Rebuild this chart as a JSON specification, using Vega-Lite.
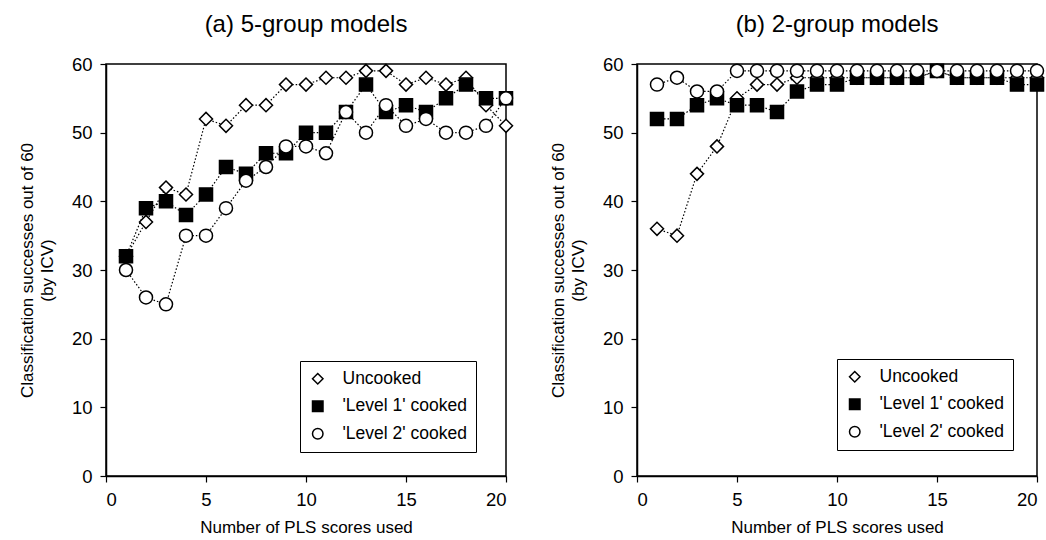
{
  "$schema": "https://vega.github.io/schema/vega-lite/v6.json",
  "background": "white",
  "padding": {"left": 17, "top": 12, "right": 5, "bottom": 2},
  "bounds": "flush",
  "spacing": 131,
  "datasets": {
    "a": [
      {"series": "Uncooked", "x": 1, "y": 32}, {"series": "Uncooked", "x": 2, "y": 37}, {"series": "Uncooked", "x": 3, "y": 42}, {"series": "Uncooked", "x": 4, "y": 41}, {"series": "Uncooked", "x": 5, "y": 52}, {"series": "Uncooked", "x": 6, "y": 51}, {"series": "Uncooked", "x": 7, "y": 54}, {"series": "Uncooked", "x": 8, "y": 54}, {"series": "Uncooked", "x": 9, "y": 57}, {"series": "Uncooked", "x": 10, "y": 57}, {"series": "Uncooked", "x": 11, "y": 58}, {"series": "Uncooked", "x": 12, "y": 58}, {"series": "Uncooked", "x": 13, "y": 59}, {"series": "Uncooked", "x": 14, "y": 59}, {"series": "Uncooked", "x": 15, "y": 57}, {"series": "Uncooked", "x": 16, "y": 58}, {"series": "Uncooked", "x": 17, "y": 57}, {"series": "Uncooked", "x": 18, "y": 58}, {"series": "Uncooked", "x": 19, "y": 54}, {"series": "Uncooked", "x": 20, "y": 51},
      {"series": "'Level 1' cooked", "x": 1, "y": 32}, {"series": "'Level 1' cooked", "x": 2, "y": 39}, {"series": "'Level 1' cooked", "x": 3, "y": 40}, {"series": "'Level 1' cooked", "x": 4, "y": 38}, {"series": "'Level 1' cooked", "x": 5, "y": 41}, {"series": "'Level 1' cooked", "x": 6, "y": 45}, {"series": "'Level 1' cooked", "x": 7, "y": 44}, {"series": "'Level 1' cooked", "x": 8, "y": 47}, {"series": "'Level 1' cooked", "x": 9, "y": 47}, {"series": "'Level 1' cooked", "x": 10, "y": 50}, {"series": "'Level 1' cooked", "x": 11, "y": 50}, {"series": "'Level 1' cooked", "x": 12, "y": 53}, {"series": "'Level 1' cooked", "x": 13, "y": 57}, {"series": "'Level 1' cooked", "x": 14, "y": 53}, {"series": "'Level 1' cooked", "x": 15, "y": 54}, {"series": "'Level 1' cooked", "x": 16, "y": 53}, {"series": "'Level 1' cooked", "x": 17, "y": 55}, {"series": "'Level 1' cooked", "x": 18, "y": 57}, {"series": "'Level 1' cooked", "x": 19, "y": 55}, {"series": "'Level 1' cooked", "x": 20, "y": 55},
      {"series": "'Level 2' cooked", "x": 1, "y": 30}, {"series": "'Level 2' cooked", "x": 2, "y": 26}, {"series": "'Level 2' cooked", "x": 3, "y": 25}, {"series": "'Level 2' cooked", "x": 4, "y": 35}, {"series": "'Level 2' cooked", "x": 5, "y": 35}, {"series": "'Level 2' cooked", "x": 6, "y": 39}, {"series": "'Level 2' cooked", "x": 7, "y": 43}, {"series": "'Level 2' cooked", "x": 8, "y": 45}, {"series": "'Level 2' cooked", "x": 9, "y": 48}, {"series": "'Level 2' cooked", "x": 10, "y": 48}, {"series": "'Level 2' cooked", "x": 11, "y": 47}, {"series": "'Level 2' cooked", "x": 12, "y": 53}, {"series": "'Level 2' cooked", "x": 13, "y": 50}, {"series": "'Level 2' cooked", "x": 14, "y": 54}, {"series": "'Level 2' cooked", "x": 15, "y": 51}, {"series": "'Level 2' cooked", "x": 16, "y": 52}, {"series": "'Level 2' cooked", "x": 17, "y": 50}, {"series": "'Level 2' cooked", "x": 18, "y": 50}, {"series": "'Level 2' cooked", "x": 19, "y": 51}, {"series": "'Level 2' cooked", "x": 20, "y": 55}
    ],
    "b": [
      {"series": "Uncooked", "x": 1, "y": 36}, {"series": "Uncooked", "x": 2, "y": 35}, {"series": "Uncooked", "x": 3, "y": 44}, {"series": "Uncooked", "x": 4, "y": 48}, {"series": "Uncooked", "x": 5, "y": 55}, {"series": "Uncooked", "x": 6, "y": 57}, {"series": "Uncooked", "x": 7, "y": 57}, {"series": "Uncooked", "x": 8, "y": 58}, {"series": "Uncooked", "x": 9, "y": 58}, {"series": "Uncooked", "x": 10, "y": 58}, {"series": "Uncooked", "x": 11, "y": 58}, {"series": "Uncooked", "x": 12, "y": 58}, {"series": "Uncooked", "x": 13, "y": 58}, {"series": "Uncooked", "x": 14, "y": 58}, {"series": "Uncooked", "x": 15, "y": 59}, {"series": "Uncooked", "x": 16, "y": 58}, {"series": "Uncooked", "x": 17, "y": 58}, {"series": "Uncooked", "x": 18, "y": 58}, {"series": "Uncooked", "x": 19, "y": 58}, {"series": "Uncooked", "x": 20, "y": 58},
      {"series": "'Level 1' cooked", "x": 1, "y": 52}, {"series": "'Level 1' cooked", "x": 2, "y": 52}, {"series": "'Level 1' cooked", "x": 3, "y": 54}, {"series": "'Level 1' cooked", "x": 4, "y": 55}, {"series": "'Level 1' cooked", "x": 5, "y": 54}, {"series": "'Level 1' cooked", "x": 6, "y": 54}, {"series": "'Level 1' cooked", "x": 7, "y": 53}, {"series": "'Level 1' cooked", "x": 8, "y": 56}, {"series": "'Level 1' cooked", "x": 9, "y": 57}, {"series": "'Level 1' cooked", "x": 10, "y": 57}, {"series": "'Level 1' cooked", "x": 11, "y": 58}, {"series": "'Level 1' cooked", "x": 12, "y": 58}, {"series": "'Level 1' cooked", "x": 13, "y": 58}, {"series": "'Level 1' cooked", "x": 14, "y": 58}, {"series": "'Level 1' cooked", "x": 15, "y": 59}, {"series": "'Level 1' cooked", "x": 16, "y": 58}, {"series": "'Level 1' cooked", "x": 17, "y": 58}, {"series": "'Level 1' cooked", "x": 18, "y": 58}, {"series": "'Level 1' cooked", "x": 19, "y": 57}, {"series": "'Level 1' cooked", "x": 20, "y": 57},
      {"series": "'Level 2' cooked", "x": 1, "y": 57}, {"series": "'Level 2' cooked", "x": 2, "y": 58}, {"series": "'Level 2' cooked", "x": 3, "y": 56}, {"series": "'Level 2' cooked", "x": 4, "y": 56}, {"series": "'Level 2' cooked", "x": 5, "y": 59}, {"series": "'Level 2' cooked", "x": 6, "y": 59}, {"series": "'Level 2' cooked", "x": 7, "y": 59}, {"series": "'Level 2' cooked", "x": 8, "y": 59}, {"series": "'Level 2' cooked", "x": 9, "y": 59}, {"series": "'Level 2' cooked", "x": 10, "y": 59}, {"series": "'Level 2' cooked", "x": 11, "y": 59}, {"series": "'Level 2' cooked", "x": 12, "y": 59}, {"series": "'Level 2' cooked", "x": 13, "y": 59}, {"series": "'Level 2' cooked", "x": 14, "y": 59}, {"series": "'Level 2' cooked", "x": 15, "y": 59}, {"series": "'Level 2' cooked", "x": 16, "y": 59}, {"series": "'Level 2' cooked", "x": 17, "y": 59}, {"series": "'Level 2' cooked", "x": 18, "y": 59}, {"series": "'Level 2' cooked", "x": 19, "y": 59}, {"series": "'Level 2' cooked", "x": 20, "y": 59}
    ]
  },
  "config": {
    "font": "Liberation Sans",
    "view": {"stroke": "black", "strokeWidth": 1.5},
    "axis": {"domainColor": "black", "tickColor": "black", "labelColor": "black", "titleColor": "black", "grid": false, "labelFontSize": 18.5, "titleFontSize": 17, "titleFontWeight": "normal", "labelFont": "Liberation Sans", "titleFont": "Liberation Sans", "domainWidth": 1.5, "tickWidth": 1.2, "tickSize": 6, "labelPadding": 8},
    "title": {"fontSize": 24, "fontWeight": "normal", "font": "Liberation Sans", "color": "black", "offset": 18, "anchor": "middle"},
    "legend": {"title": null, "strokeColor": "black", "fillColor": "white", "padding": 9, "labelFontSize": 17.5, "labelColor": "black", "labelFont": "Liberation Sans", "rowPadding": 8.5, "symbolSize": 110, "symbolStrokeWidth": 1.5, "labelOffset": 16, "orient": "none"}
  },
  "resolve": {"legend": {"shape": "independent", "fill": "independent", "stroke": "independent"}},
  "hconcat": [
    {
      "title": "(a) 5-group models",
      "width": 400,
      "height": 412,
      "data": {"name": "a"},
      "layer": [
        {
          "mark": {"type": "line", "stroke": "black", "strokeWidth": 1.2, "strokeDash": [1.5, 2]},
          "encoding": {
            "x": {"field": "x", "type": "quantitative", "scale": {"domain": [0, 20], "nice": false}, "axis": {"values": [0, 5, 10, 15, 20], "title": "Number of PLS scores used", "titlePadding": 11}},
            "y": {"field": "y", "type": "quantitative", "scale": {"domain": [0, 60], "nice": false}, "axis": {"values": [0, 10, 20, 30, 40, 50, 60], "title": ["Classification successes out of 60", "(by ICV)"], "titlePadding": 15, "titleLineHeight": 20}},
            "detail": {"field": "series"}
          }
        },
        {
          "mark": {"type": "point", "filled": true, "strokeWidth": 1.5, "opacity": 1, "size": 170},
          "encoding": {
            "x": {"field": "x", "type": "quantitative"},
            "y": {"field": "y", "type": "quantitative"},
            "shape": {"field": "series", "type": "nominal", "sort": null, "scale": {"domain": ["Uncooked", "'Level 1' cooked", "'Level 2' cooked"], "range": ["diamond", "square", "circle"]}, "legend": {"orient": "none", "legendX": 194, "legendY": 297}},
            "fill": {"field": "series", "type": "nominal", "sort": null, "scale": {"domain": ["Uncooked", "'Level 1' cooked", "'Level 2' cooked"], "range": ["white", "black", "white"]}, "legend": {"orient": "none", "legendX": 194, "legendY": 297}},
            "stroke": {"field": "series", "type": "nominal", "sort": null, "scale": {"domain": ["Uncooked", "'Level 1' cooked", "'Level 2' cooked"], "range": ["black", "black", "black"]}, "legend": {"orient": "none", "legendX": 194, "legendY": 297}}
          }
        }
      ]
    },
    {
      "title": "(b) 2-group models",
      "width": 400,
      "height": 412,
      "data": {"name": "b"},
      "layer": [
        {
          "mark": {"type": "line", "stroke": "black", "strokeWidth": 1.2, "strokeDash": [1.5, 2]},
          "encoding": {
            "x": {"field": "x", "type": "quantitative", "scale": {"domain": [0, 20], "nice": false}, "axis": {"values": [0, 5, 10, 15, 20], "title": "Number of PLS scores used", "titlePadding": 11}},
            "y": {"field": "y", "type": "quantitative", "scale": {"domain": [0, 60], "nice": false}, "axis": {"values": [0, 10, 20, 30, 40, 50, 60], "title": ["Classification successes out of 60", "(by ICV)"], "titlePadding": 15, "titleLineHeight": 20}},
            "detail": {"field": "series"}
          }
        },
        {
          "mark": {"type": "point", "filled": true, "strokeWidth": 1.5, "opacity": 1, "size": 170},
          "encoding": {
            "x": {"field": "x", "type": "quantitative"},
            "y": {"field": "y", "type": "quantitative"},
            "shape": {"field": "series", "type": "nominal", "sort": null, "scale": {"domain": ["Uncooked", "'Level 1' cooked", "'Level 2' cooked"], "range": ["diamond", "square", "circle"]}, "legend": {"orient": "none", "legendX": 200, "legendY": 295}},
            "fill": {"field": "series", "type": "nominal", "sort": null, "scale": {"domain": ["Uncooked", "'Level 1' cooked", "'Level 2' cooked"], "range": ["white", "black", "white"]}, "legend": {"orient": "none", "legendX": 200, "legendY": 295}},
            "stroke": {"field": "series", "type": "nominal", "sort": null, "scale": {"domain": ["Uncooked", "'Level 1' cooked", "'Level 2' cooked"], "range": ["black", "black", "black"]}, "legend": {"orient": "none", "legendX": 200, "legendY": 295}}
          }
        }
      ]
    }
  ]
}
